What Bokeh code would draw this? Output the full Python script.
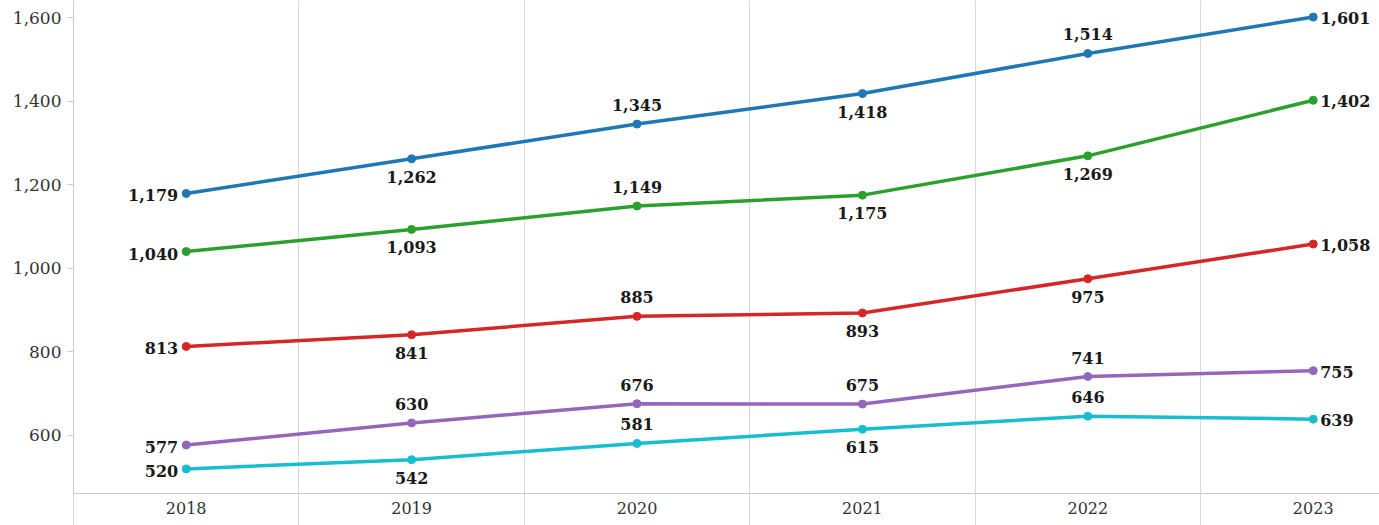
from bokeh.plotting import figure
from bokeh.models import ColumnDataSource, FixedTicker, Range1d, NumeralTickFormatter
from bokeh.core.properties import value
from bokeh.embed import file_html
from bokeh.resources import INLINE

years = ["2018", "2019", "2020", "2021", "2022", "2023"]
blue_vals = [1179, 1262, 1345, 1418, 1514, 1601]
green_vals = [1040, 1093, 1149, 1175, 1269, 1402]
red_vals = [813, 841, 885, 893, 975, 1058]
purple_vals = [577, 630, 676, 675, 741, 755]
cyan_vals = [520, 542, 581, 615, 646, 639]
y_ticks = [600, 800, 1000, 1200, 1400, 1600]

series = [
    (blue_vals, "#1f77b4", ["left", "below", "above", "below", "above", "right"]),
    (green_vals, "#2ca02c", ["left", "below", "above", "below", "below", "right"]),
    (red_vals, "#d62728", ["left", "below", "above", "below", "below", "right"]),
    (purple_vals, "#9467bd", ["left", "above", "above", "above", "above", "right"]),
    (cyan_vals, "#17becf", ["left", "below", "above", "below", "above", "right"]),
]

place = {
    "left": (-8, 2, "right", "middle"),
    "right": (7, 1, "left", "middle"),
    "above": (0, -13, "center", "bottom"),
    "below": (0, 12, "center", "top"),
}

FONT = "DejaVu Serif"

p = figure(width=1379, height=525, x_range=Range1d(-0.5, 5.294),
           y_range=Range1d(461.1, 1640.7), output_backend="svg",
           toolbar_location=None, min_border_left=73, min_border_right=0,
           min_border_top=0, min_border_bottom=32)
p.outline_line_color = None
p.background_fill_color = "white"
p.border_fill_color = "white"
p.ygrid.grid_line_color = None
p.xgrid.ticker = FixedTicker(ticks=[0.5, 1.5, 2.5, 3.5, 4.5])
p.xgrid.grid_line_color = "#d9d9d9"
p.xgrid.grid_line_width = 1

xs = list(range(len(years)))
p.xaxis.ticker = FixedTicker(ticks=xs, minor_ticks=[-0.5, 0.5, 1.5, 2.5, 3.5, 4.5])
p.xaxis.major_label_overrides = {i: y for i, y in enumerate(years)}
p.xaxis.major_tick_line_color = None
p.xaxis.major_tick_out = 0
p.xaxis.major_tick_in = 0
p.xaxis.minor_tick_line_color = "#d9d9d9"
p.xaxis.minor_tick_out = 32
p.xaxis.minor_tick_in = 0
p.xaxis.axis_line_color = "#cccccc"
p.xaxis.major_label_standoff = -24
p.xaxis.major_label_text_font = FONT
p.xaxis.major_label_text_font_size = "16px"
p.xaxis.major_label_text_color = "#333333"

p.yaxis.ticker = FixedTicker(ticks=y_ticks, minor_ticks=[])
p.yaxis.formatter = NumeralTickFormatter(format="0,0")
p.yaxis.axis_line_color = "#cccccc"
p.yaxis.major_tick_line_color = "#cccccc"
p.yaxis.major_tick_out = 6
p.yaxis.major_tick_in = 0
p.yaxis.major_label_standoff = 6
p.yaxis.major_label_text_font = FONT
p.yaxis.major_label_text_font_size = "17px"
p.yaxis.major_label_text_color = "#333333"

for vals, color, positions in series:
    src = ColumnDataSource(dict(
        x=xs, y=vals, label=[f"{v:,}" for v in vals],
        xo=[place[k][0] for k in positions],
        yo=[place[k][1] for k in positions],
        ta=[place[k][2] for k in positions],
        tb=[place[k][3] for k in positions],
    ))
    p.line("x", "y", source=src, line_color=color, line_width=3.5)
    p.scatter("x", "y", source=src, size=8, fill_color=color, line_color=color)
    p.text("x", "y", text="label", source=src, x_offset="xo", y_offset="yo",
           text_align="ta", text_baseline="tb", text_font=value(FONT),
           text_font_style="bold", text_font_size="16px", text_color="#1a1a1a")

open("out.html", "w").write(file_html(p, INLINE))
